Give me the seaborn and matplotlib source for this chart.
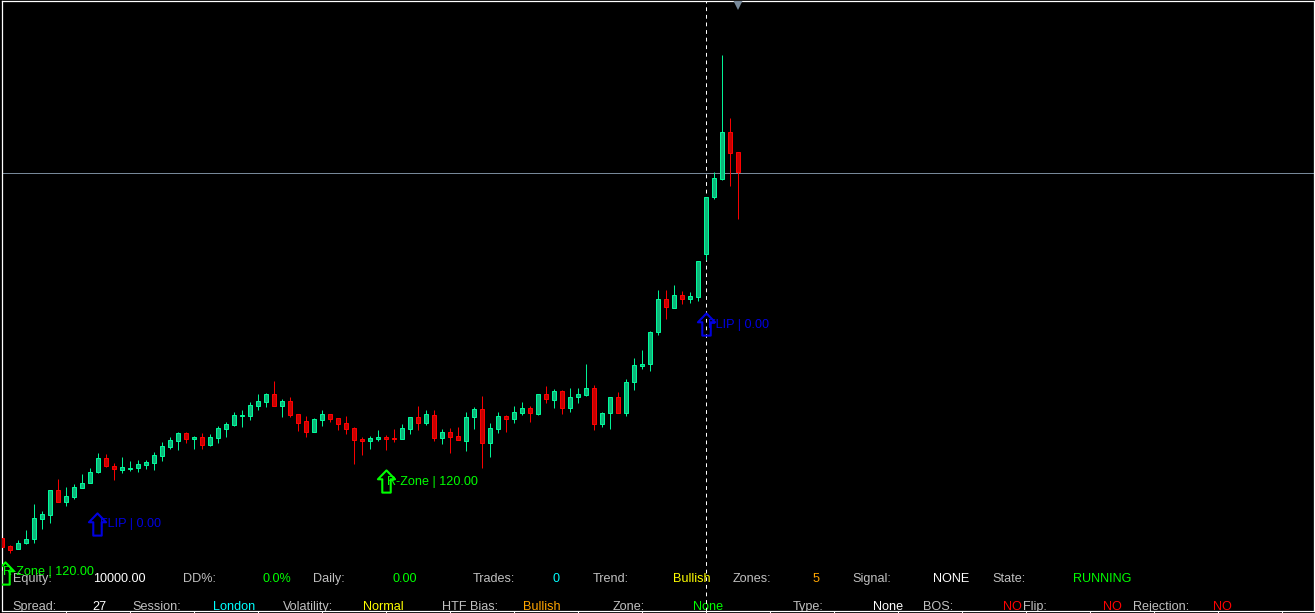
import matplotlib
matplotlib.use("Agg")
import matplotlib.pyplot as plt
from matplotlib.path import Path
from matplotlib.ticker import FixedLocator
import numpy as np
import pandas as pd
import seaborn as sns

# ---- price data (chart units) ----
highs = [76,68,73,83,109,102,123,134,126,129,139,145,160,159,150,156,152,153,153,161,171,176,181,181,177,180,179,187,191,201,
         203,211,219,220,232,214,216,199,197,195,203,199,195,197,186,176,177,183,178,184,189,196,207,203,203,184,185,186,201,206,
         217,190,201,198,207,211,207,219,227,224,223,225,225,249,228,201,216,221,234,255,263,282,323,323,328,322,321,352,416,441,558,495,461]
lows = [63,60,64,69,70,84,90,111,107,114,125,130,140,146,133,140,142,141,144,143,152,164,163,170,164,164,167,170,176,187,
        186,193,203,206,207,196,196,182,176,181,187,191,183,179,149,158,164,172,163,171,174,179,183,188,172,169,160,173,162,184,
        145,156,180,181,190,198,191,198,210,205,199,201,210,217,183,186,184,200,197,223,244,242,278,294,305,309,310,312,353,414,433,427,394]
opens = [75,67,64,70,74,94,98,123,111,116,125,130,141,155,147,143,144,145,148,150,157,166,172,180,174,176,168,175,184,188,
         197,197,207,211,219,207,212,199,192,181,193,199,195,190,185,174,172,174,176,175,174,184,196,190,198,175,181,177,172,196,
         204,170,184,197,194,200,205,199,219,213,222,205,216,218,225,189,200,216,200,231,247,249,281,314,305,318,314,316,359,416,434,481,461]
closes = [66,63,70,74,95,99,123,111,117,126,130,141,155,147,144,146,145,149,151,158,167,173,180,174,176,168,176,185,189,198,
          198,208,212,219,207,212,198,190,181,194,199,194,189,184,173,172,175,176,174,174,185,196,190,199,175,181,176,173,196,204,
          170,185,197,194,201,205,200,219,214,222,205,216,219,225,189,200,216,200,231,248,249,281,314,306,318,314,317,352,416,435,481,460,441]

arrow_bars = [0.3, 11.85, 48, 88]
arrow_tips = [52, 101, 144, 301]
arrow_labels = ["R-Zone | 120.00", "FLIP | 0.00", "R-Zone | 120.00", "FLIP | 0.00"]
arrow_colors = ["#00FF00", "#0000E0", "#00FF00", "#0000E0"]
label_px_x = [3, 100, 387, 708]
label_px_base = [575, 527, 485, 328]

panel_row1 = [("Equity:", "#C0C0C0"), ("10000.00", "#FFFFFF"), ("DD%:", "#C0C0C0"), ("0.0%", "#00FF00"),
              ("Daily:", "#C0C0C0"), ("0.00", "#00FF00"), ("Trades:", "#C0C0C0"), ("0", "#00FFFF"),
              ("Trend:", "#C0C0C0"), ("Bullish", "#FFFF00"), ("Zones:", "#C0C0C0"), ("5", "#FFA500"),
              ("Signal:", "#C0C0C0"), ("NONE", "#FFFFFF"), ("State:", "#C0C0C0"), ("RUNNING", "#00FF00")]
panel_row1_x = [13, 94, 183, 263, 313, 393, 473, 553, 593, 673, 733, 813, 853, 933, 993, 1073]
panel_row2 = [("Spread:", "#C0C0C0"), ("27", "#FFFFFF"), ("Session:", "#C0C0C0"), ("London", "#00FFFF"),
              ("Volatility:", "#C0C0C0"), ("Normal", "#FFFF00"), ("HTF Bias:", "#C0C0C0"), ("Bullish", "#FFA500"),
              ("Zone:", "#C0C0C0"), ("None", "#00FF00"), ("Type:", "#C0C0C0"), ("None", "#FFFFFF"),
              ("BOS:", "#C0C0C0"), ("NO", "#FF0000"), ("Flip:", "#C0C0C0"), ("NO", "#FF0000"),
              ("Rejection:", "#C0C0C0"), ("NO", "#FF0000")]
panel_row2_x = [13, 93, 133, 213, 283, 363, 443, 523, 613, 693, 793, 873, 923, 1003, 1023, 1103, 1133, 1213]

sns.set_theme(style="dark", rc={"axes.facecolor": "black", "figure.facecolor": "black"})
plt.rcParams["font.family"] = ["Liberation Sans", "DejaVu Sans"]

W, H = 1315, 613
PX0 = 2.2      # pixel position of bar 0
LEFT, RIGHT = 2.0, 1313.5
TOP, BOTTOM = 0.5, 610.5
fig = plt.figure(figsize=(W / 100, H / 100), dpi=100, facecolor="black")
ax = fig.add_axes([LEFT / W, (H - BOTTOM) / H, (RIGHT - LEFT) / W, (BOTTOM - TOP) / H], facecolor="black")

df = pd.DataFrame({"bar": np.arange(len(opens)), "o": opens, "c": closes, "h": highs, "l": lows})
df["up"] = df.c >= df.o
df["base"] = df[["o", "c"]].min(axis=1)
df["body"] = (df.c - df.o).abs()

styles = {True: ("#00FA9A", "#0DB57A"), False: ("#FF0000", "#C80000")}
for up, (edge, fill) in styles.items():
    part = df[df.up == up]
    ax.vlines(part.bar, part.l, part.h, color=edge, lw=0.7, zorder=2)
    sns.barplot(data=part, x="bar", y="body", bottom=part.base.values, native_scale=True, ax=ax,
                width=0.5, color=fill, saturation=1, edgecolor=edge, linewidth=0.72, errorbar=None,
                zorder=3)

ax.set_xlim((LEFT - PX0) / 8, (RIGHT - PX0) / 8)
ax.set_ylim(H - BOTTOM, H - TOP)
ax.set_xlabel("")
ax.set_ylabel("")

# crosshair and shift marker
ax.axhline(H - 173, color="#778899", lw=0.72, zorder=1)
ax.axvline(88, color="white", lw=0.72, dashes=(3.8, 3.8), zorder=1)
ax.plot([92], [608.5], marker="v", ms=6.5, color="#778899", mew=0, zorder=6, clip_on=True)

# hollow up arrows
arrow = Path([(0, 1.0), (0.77, 0.2), (0.38, 0.2), (0.38, -1.0), (-0.38, -1.0), (-0.38, 0.2), (-0.77, 0.2), (0, 1.0)], closed=True)
for bx, tip, lab, col, lx, lb in zip(arrow_bars, arrow_tips, arrow_labels, arrow_colors, label_px_x, label_px_base):
    ax.plot([bx], [tip - 11.5], marker=arrow, ms=16, mfc="none", mec=col, mew=1.5, zorder=7, clip_on=True)
    ax.text((lx - PX0) / 8, H - lb, lab, color=col, fontsize=9.1, va="baseline", ha="left", zorder=8, clip_on=True)

# status panel
for row, xs, y in [(panel_row1, panel_row1_x, 582), (panel_row2, panel_row2_x, 610)]:
    for (txt, col), x in zip(row, xs):
        ax.text((x - 0.5 - PX0) / 8, H - y, txt, color=col, fontsize=9.1, va="baseline", ha="left", zorder=0.5, clip_on=True)

# frame and ticks
ax.grid(False)
for s in ax.spines.values():
    s.set_color("white")
    s.set_linewidth(0.9)
    s.set_visible(True)
ax.xaxis.set_major_locator(FixedLocator(np.arange(8, 164, 8)))
ax.yaxis.set_major_locator(FixedLocator(np.arange(578.5, 0, -32)))
ax.tick_params(axis="x", bottom=True, color="white", length=2.2, width=0.75, labelbottom=False, direction="out")
ax.tick_params(axis="y", left=False, right=True, color="white", length=1.5, width=0.75,
               labelleft=False, labelright=False, direction="out")

fig.savefig("out.png", dpi=100, facecolor="black")
